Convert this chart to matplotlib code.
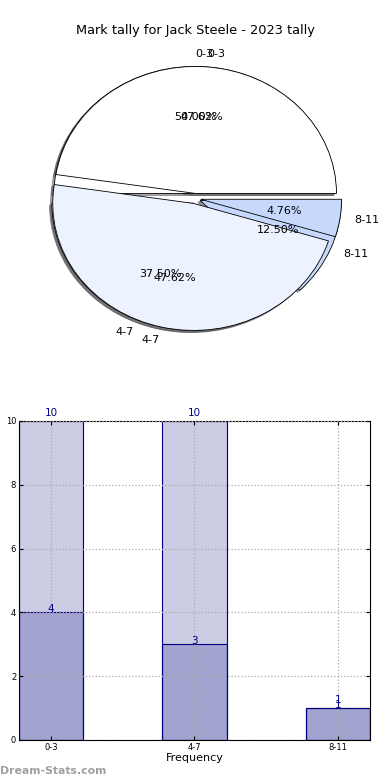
import matplotlib
matplotlib.use('Agg')
import matplotlib.pyplot as plt

categories = ['0-3', '4-7', '8-11']
tally_2023 = [4, 3, 1]
tally_career = [10, 10, 1]
pie_colors = ['#ffffff', '#ecf2fe', '#c6d9fd']

fig = plt.figure(figsize=(3.9, 7.8), dpi=100)

# pie - two overlapping pies, like the original
ax1 = fig.add_axes([0.048, 0.542, 0.904, 0.407])
shadow = {'ox': -0.012, 'oy': -0.012}
wedges1, labels1, pcts1 = ax1.pie(tally_2023, labels=categories, colors=pie_colors, autopct='%1.2f%%',
                                  explode=[0.04, 0.04, 0.04], shadow=shadow,
                                  wedgeprops={'edgecolor': 'black', 'linewidth': 0.6},
                                  textprops={'fontsize': 8})
wedges2, labels2, pcts2 = ax1.pie(tally_career, labels=categories, colors=pie_colors, autopct='%1.2f%%',
                                  explode=[0.04, 0.04, 0.04], shadow=shadow,
                                  wedgeprops={'edgecolor': 'black', 'linewidth': 0.6},
                                  textprops={'fontsize': 8})
labels1[0].set_ha('left')
ax1.set_aspect('auto')
ax1.set_xlim(-1.25, 1.25)
ax1.set_ylim(-1.25, 1.25)
fig.text(0.5, 0.961, 'Mark tally for Jack Steele - 2023 tally', ha='center', va='center', fontsize=9.3)

# bars
ax2 = fig.add_axes([0.0487, 0.0513, 0.9, 0.409])
x = list(range(len(categories)))
ax2.bar(x, tally_career, width=0.45, color='navy', alpha=0.2, edgecolor='navy', linewidth=0.8)
ax2.bar(x, tally_2023, width=0.45, color='navy', alpha=0.2, edgecolor='navy', linewidth=0.8)
ax2.bar(x, tally_career, width=0.45, fill=False, edgecolor='navy', linewidth=0.8)
ax2.bar(x, tally_2023, width=0.45, fill=False, edgecolor='navy', linewidth=0.8)
for i in x:
    ax2.text(i, tally_career[i] + 0.1, str(tally_career[i]), ha='center', va='bottom', color='navy', fontsize=7.5)
    ax2.text(i, tally_2023[i] - 0.05, str(tally_2023[i]), ha='center', va='bottom', color='navy', fontsize=7.5)
ax2.set_xlim(-0.225, 2.225)
ax2.set_ylim(0, 10)
ax2.set_xticks(x)
ax2.set_xticklabels(categories)
ax2.set_yticks([0, 2, 4, 6, 8, 10])
ax2.tick_params(labelsize=6, direction='in', top=True, right=True, length=3, pad=2)
ax2.grid(True, linestyle=':', color='#aaaaaa', linewidth=0.9)
ax2.set_axisbelow(False)
ax2.set_xlabel('Frequency', fontsize=8, labelpad=1)
ax2.set_ylabel('Last Mark Tally', fontsize=8, labelpad=2)
ax2.yaxis.set_label_coords(-0.052, 0.5)

fig.text(0.0, 0.012, 'Dream-Stats.com', ha='left', va='center', fontsize=7.8, color='#a0a0a0', fontweight='bold')

fig.savefig('out.png', dpi=100)
